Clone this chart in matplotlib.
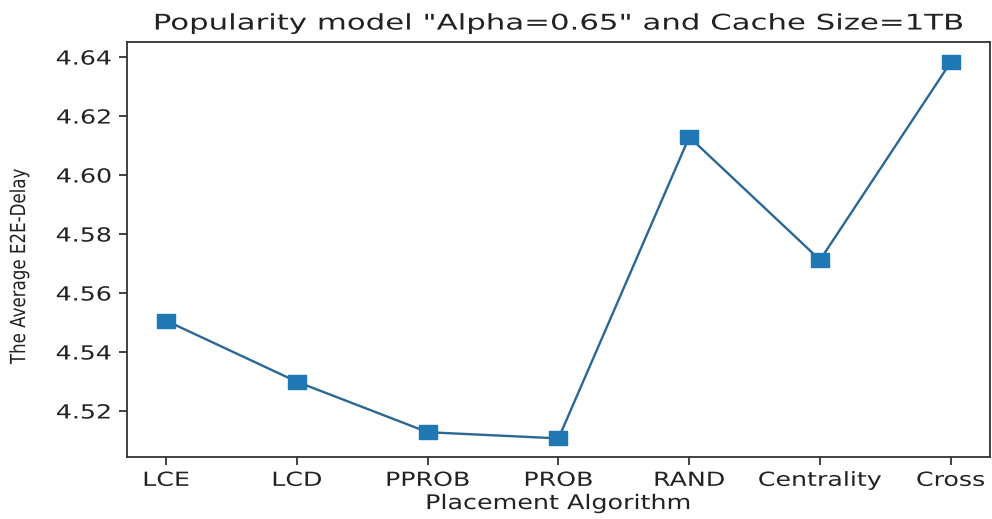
import matplotlib
matplotlib.use("Agg")
import matplotlib.pyplot as plt
from matplotlib.patheffects import AbstractPathEffect
from matplotlib.transforms import Affine2D

algorithms = ["LCE", "LCD", "PPROB", "PROB", "RAND", "Centrality", "Cross"]
avg_delay = [4.5506, 4.5299, 4.5128, 4.5107, 4.6129, 4.5712, 4.6383]
yticks = [4.52, 4.54, 4.56, 4.58, 4.60, 4.62, 4.64]


class Stretch(AbstractPathEffect):
    """Draw text scaled horizontally/vertically about an anchor (text stays real text)."""

    def __init__(self, sx=1.0, sy=1.0, anchor="center"):
        super().__init__()
        self.sx, self.sy, self.anchor = sx, sy, anchor

    def draw_path(self, renderer, gc, tpath, affine, rgbFace=None):
        ext = tpath.get_extents(affine)
        if self.anchor == "right":
            cx = ext.x1
        elif self.anchor == "left":
            cx = ext.x0
        else:
            cx = 0.5 * (ext.x0 + ext.x1)
        cy = 0.5 * (ext.y0 + ext.y1)
        t = affine + Affine2D().translate(-cx, -cy).scale(self.sx, self.sy).translate(cx, cy)
        renderer.draw_path(gc, tpath, t, rgbFace)


fig = plt.figure(figsize=(9.92, 5.19), dpi=100)
ax = fig.add_axes([0.128, 0.1195, 0.87, 0.7995])

wide_square = [(-1.3, -1), (1.3, -1), (1.3, 1), (-1.3, 1), (-1.3, -1)]
ax.plot(algorithms, avg_delay, color="#2a6794", linewidth=1.7,
        marker=wide_square, markersize=12.5,
        markerfacecolor="#1f77b4", markeredgecolor="#1f77b4")

ax.set_ylim(4.5044, 4.6451)
ax.set_yticks(yticks)
ax.set_yticklabels([f"{v:.2f}" for v in yticks])
ax.tick_params(axis="both", labelsize=14, length=6, width=1.2, colors="#222222")
ax.tick_params(axis="y", pad=5)
ax.tick_params(axis="x", pad=4)
for s in ax.spines.values():
    s.set_linewidth(1.3)
    s.set_color("#333333")

for lab in ax.get_xticklabels():
    lab.set_path_effects([Stretch(sx=1.3)])
for lab in ax.get_yticklabels():
    lab.set_path_effects([Stretch(sx=1.3, anchor="right")])

title = ax.set_title('Popularity model "Alpha=0.65" and Cache Size=1TB', fontsize=15.5,
                     color="#222222", pad=9)
title.set_path_effects([Stretch(sx=1.43)])

xl = ax.set_xlabel("Placement Algorithm", fontsize=14.5, color="#222222", labelpad=3)
xl.set_path_effects([Stretch(sx=1.26)])

yl = ax.set_ylabel("The Average E2E-Delay", fontsize=15, color="#222222",
                   va="center")
ax.yaxis.set_label_coords(-0.125, 0.46)
yl.set_path_effects([Stretch(sx=1.0, sy=0.8)])

fig.savefig("out.png", dpi=100)
